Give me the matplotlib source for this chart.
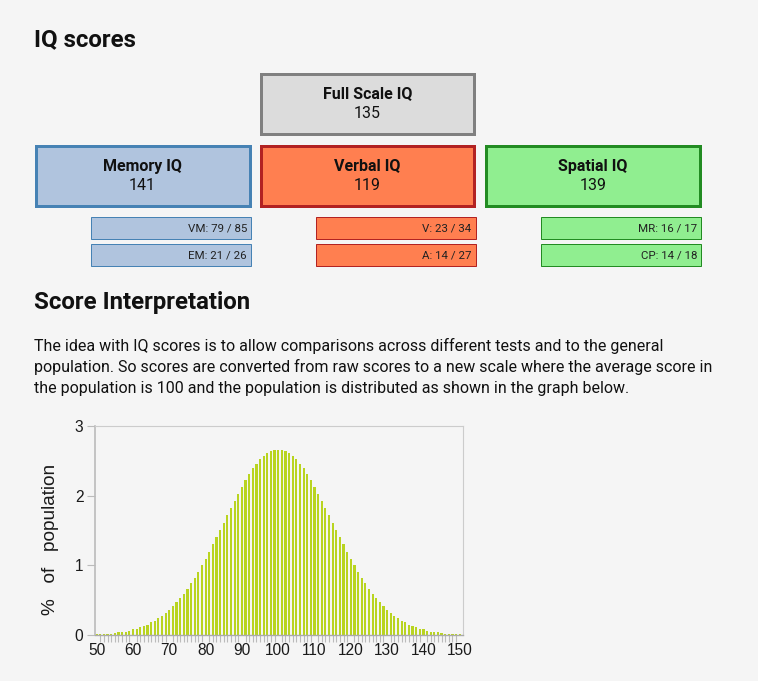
import matplotlib
matplotlib.use("Agg")
import matplotlib.pyplot as plt
from matplotlib.patches import Rectangle

# ---- data ----
full_label = "Full Scale IQ"
full_score = 135

index_labels = ["Memory IQ", "Verbal IQ", "Spatial IQ"]
index_scores = [141, 119, 139]

subtest_rows = [["VM: 79 / 85", "EM: 21 / 26"],
                ["V: 23 / 34", "A: 14 / 27"],
                ["MR: 16 / 17", "CP: 14 / 18"]]

iq_values = list(range(50, 151))
# % of population per IQ point (50 .. 150)
left_half = [0.01, 0.01, 0.02, 0.02, 0.02, 0.03, 0.04, 0.04, 0.05, 0.06,
             0.08, 0.09, 0.11, 0.13, 0.15, 0.18, 0.20, 0.24, 0.27, 0.31,
             0.36, 0.41, 0.47, 0.53, 0.59, 0.66, 0.74, 0.82, 0.91, 1.00,
             1.09, 1.19, 1.30, 1.40, 1.51, 1.61, 1.72, 1.83, 1.93, 2.03,
             2.13, 2.22, 2.31, 2.39, 2.46, 2.52, 2.57, 2.61, 2.64, 2.65,
             2.66]
right_half = [2.65, 2.64, 2.61, 2.57, 2.52, 2.46, 2.39, 2.31, 2.22, 2.13,
              2.03, 1.93, 1.83, 1.72, 1.61, 1.51, 1.40, 1.30, 1.19, 1.09,
              1.00, 0.91, 0.82, 0.74, 0.66, 0.59, 0.53, 0.47, 0.41, 0.36,
              0.31, 0.27, 0.24, 0.20, 0.18, 0.15, 0.13, 0.11, 0.09, 0.08,
              0.06, 0.05, 0.04, 0.04, 0.03, 0.02, 0.02, 0.02, 0.01, 0.01]
pct_population = left_half + right_half

paragraph = ["The idea with IQ scores is to allow comparisons across different tests and to the general",
             "population. So scores are converted from raw scores to a new scale where the average score in",
             "the population is 100 and the population is distributed as shown in the graph below."]

# ---- styling ----
bg = "#f5f5f5"
fills = ["#b0c4de", "#ff7f50", "#90ee90"]
edges = ["#4682b4", "#b22222", "#228b22"]
PT = 0.72  # px -> pt at dpi 100

W, H = 758, 681
fig = plt.figure(figsize=(W / 100, H / 100), dpi=100, facecolor=bg)

# page overlay in pixel coordinates
page = fig.add_axes([0, 0, 1, 1])
page.set_xlim(0, W)
page.set_ylim(H, 0)
page.axis("off")

font = "Roboto"
page.text(34, 46, "IQ scores", fontsize=24 * PT, family=font, weight="bold",
          color="#111111", va="baseline")


def score_box(x0, x1, y0, y1, fill, edge, label, score):
    page.add_patch(Rectangle((x0, y0), x1 - x0, y1 - y0, facecolor=fill,
                             edgecolor=edge, linewidth=3 * PT))
    cx = (x0 + x1) / 2
    page.text(cx, y0 + 25, label, fontsize=16 * PT, family=font, weight="bold",
              ha="center", va="baseline", color="#111111")
    page.text(cx, y0 + 45, str(score), fontsize=16 * PT, family=font,
              ha="center", va="baseline", color="#111111")


score_box(261, 474, 73.5, 133.5, "#dcdcdc", "#808080", full_label, full_score)

col_x = [(35.5, 249.5), (261, 474), (486, 699.5)]
sub_x0 = [90.5, 315.5, 540.5]
for i in range(3):
    x0, x1 = col_x[i]
    score_box(x0, x1, 145.5, 205.5, fills[i], edges[i], index_labels[i], index_scores[i])
    for j, txt in enumerate(subtest_rows[i]):
        y0 = 216.5 + j * 27
        page.add_patch(Rectangle((sub_x0[i], y0), x1 + 1.5 - sub_x0[i], 22,
                                 facecolor=fills[i], edgecolor=edges[i], linewidth=1 * PT))
        page.text(x1 - 2.5, y0 + 15, txt, fontsize=11.5 * PT, family=font,
                  ha="right", va="baseline", color="#222222")

page.text(34, 309, "Score Interpretation", fontsize=24 * PT, family=font,
          weight="bold", color="#111111", va="baseline")
for k, line in enumerate(paragraph):
    page.text(34, 351 + k * 21, line, fontsize=16 * PT, family=font,
              color="#111111", va="baseline")

# ---- bar chart ----
ax = fig.add_axes([94.5 / W, (H - 635) / H, (463 - 94.5) / W, (635 - 426) / H])
ax.set_facecolor(bg)
ax.bar(iq_values, pct_population, width=0.6, color="#b9d420", linewidth=0)
ax.set_xlim(49.4, 150.9)
ax.set_ylim(0, 3)
ax.set_xticks(range(50, 151, 10))
ax.set_xticks(iq_values, minor=True)
ax.set_yticks([0, 1, 2, 3])
ax.tick_params(axis="x", which="major", length=0, pad=6, labelsize=15.5 * PT,
               labelcolor="#1a1a1a")
ax.tick_params(axis="x", which="minor", length=5, width=0.8, color="#bbbbbb")
ax.tick_params(axis="y", length=6, width=0.8, color="#bbbbbb", pad=2,
               labelsize=15.5 * PT, labelcolor="#1a1a1a")
for lab in ax.get_xticklabels() + ax.get_yticklabels():
    lab.set_family("Liberation Sans")
for side in ["top", "right"]:
    ax.spines[side].set_color("#cccccc")
    ax.spines[side].set_linewidth(0.8)
ax.spines["left"].set_color("#bbbbbb")
ax.spines["left"].set_linewidth(1.2)
ax.spines["bottom"].set_color("#aaaaaa")
ax.spines["bottom"].set_linewidth(1.0)

page.text(51, 539, "%   of   population", rotation=90, fontsize=19 * PT,
          family="Liberation Sans", ha="center", va="center", color="#1a1a1a")

fig.savefig("out.png", dpi=100, facecolor=bg)
